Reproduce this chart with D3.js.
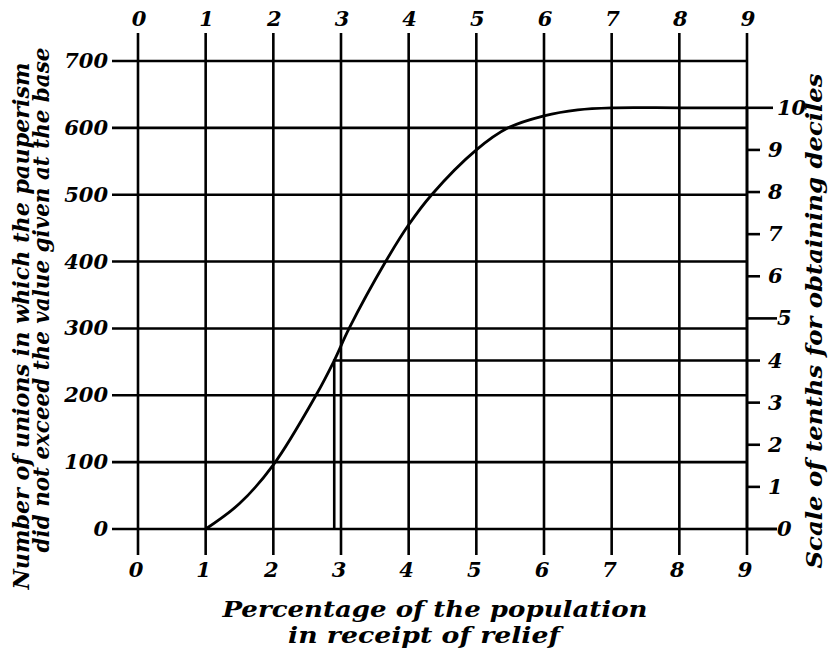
<!DOCTYPE html>
<html lang='en'>
  <head>
    <meta charset='utf-8'>
    <title>Pauperism ogive</title>
    <script src="https://d3js.org/d3.v7.min.js" charset='utf-8'></script>
    <style type="text/css">
      body { margin: 0; background: #fff; }
      svg { display: block; }
      .grid line, .ticks line, .decile { stroke: #000; stroke-width: 2.6px; fill: none; }
      .curve { stroke: #000; stroke-width: 2.8px; fill: none; }
      text {
        font-family: 'DejaVu Serif', serif;
        font-weight: bold;
        font-style: italic;
        fill: #000;
      }
      .lbl { font-size: 21px; }
      .title { font-size: 23px; }
    </style>
  </head>
  <body>
    <script type="text/javascript">
      var width = 829, height = 650;

      // percentage of population in receipt of relief (x) vs cumulative number of unions (y)
      var pct = [1, 1.5, 2, 2.63, 2.9, 3.12, 3.66, 4, 4.34, 5, 5.47, 6, 6.5, 7, 8, 9];
      var unions = [0, 38, 96, 200, 252, 300, 400, 455, 500, 567, 600, 618, 627, 630, 630, 630];
      var xTicks = [0, 1, 2, 3, 4, 5, 6, 7, 8, 9];
      var yTicks = [0, 100, 200, 300, 400, 500, 600, 700];
      var tenths = [0, 1, 2, 3, 4, 5, 6, 7, 8, 9, 10];
      var longTenths = [0, 5, 10];
      var decileShown = 4;
      var totalUnions = 630;

      var svg = d3.select('body').append('svg')
        .attr('width', width)
        .attr('height', height);

      var x = d3.scaleLinear().domain([0, 9]).range([138, 747]);
      var y = d3.scaleLinear().domain([0, 700]).range([529, 61]);
      var t = d3.scaleLinear().domain([0, 10]).range([y(0), y(totalUnions)]);

      // vertical grid lines, running past the frame top and bottom
      svg.append('g').attr('class', 'grid')
        .selectAll('line').data(xTicks).enter().append('line')
        .attr('x1', function(d) { return x(d); })
        .attr('x2', function(d) { return x(d); })
        .attr('y1', 33)
        .attr('y2', 555);

      // horizontal grid lines
      svg.append('g').attr('class', 'grid')
        .selectAll('line').data(yTicks).enter().append('line')
        .attr('x1', 112)
        .attr('x2', function(d) { return d === 0 ? 777 : x(9); })
        .attr('y1', function(d) { return y(d); })
        .attr('y2', function(d) { return y(d); });

      // x labels top and bottom
      svg.append('g').selectAll('text').data(xTicks).enter().append('text')
        .attr('class', 'lbl')
        .attr('x', function(d) { return x(d) + 1; })
        .attr('y', 26)
        .attr('text-anchor', 'middle')
        .text(function(d) { return d; });
      svg.append('g').selectAll('text').data(xTicks).enter().append('text')
        .attr('class', 'lbl')
        .attr('x', function(d) { return x(d) - 2; })
        .attr('y', 577)
        .attr('text-anchor', 'middle')
        .text(function(d) { return d; });

      // y labels left
      svg.append('g').selectAll('text').data(yTicks).enter().append('text')
        .attr('class', 'lbl')
        .attr('x', 108)
        .attr('y', function(d) { return y(d) + 7; })
        .attr('text-anchor', 'end')
        .text(function(d) { return d; });

      // scale of tenths on the right
      var right = svg.append('g').attr('class', 'ticks');
      right.append('line')
        .attr('x1', x(9)).attr('x2', x(9))
        .attr('y1', y(0)).attr('y2', t(10));
      right.selectAll('line.tk').data(tenths).enter().append('line')
        .attr('class', 'tk')
        .attr('x1', function(d) { return d === 10 ? x(9) - 2 : x(9); })
        .attr('x2', function(d) {
          if (d === 10) return 773;
          return longTenths.indexOf(d) >= 0 ? 777 : 760;
        })
        .attr('y1', function(d) { return t(d); })
        .attr('y2', function(d) { return t(d); });
      right.selectAll('text').data(tenths).enter().append('text')
        .attr('class', 'lbl')
        .attr('x', function(d) { return longTenths.indexOf(d) >= 0 ? 777 : 768; })
        .attr('y', function(d) { return t(d) + 7; })
        .text(function(d) { return d; });

      // the curve
      var pts = pct.map(function(d, i) { return [d, unions[i]]; });
      var line = d3.line()
        .x(function(d) { return x(d[0]); })
        .y(function(d) { return y(d[1]); })
        .curve(d3.curveCatmullRom.alpha(0.5));
      svg.append('path').attr('class', 'curve').attr('d', line(pts));

      // construction for the 4th decile
      var target = totalUnions * decileShown / 10;
      var i = d3.bisectLeft(unions, target);
      var f = (target - unions[i - 1]) / (unions[i] - unions[i - 1]);
      var xd = pct[i - 1] + f * (pct[i] - pct[i - 1]);
      svg.append('path').attr('class', 'decile')
        .attr('d', 'M' + x(9) + ',' + t(decileShown) +
          'H' + x(xd) + 'V' + y(0));

      // axis titles
      svg.append('text').attr('class', 'title')
        .attr('x', 435).attr('y', 617)
        .attr('text-anchor', 'middle')
        .attr('textLength', 425).attr('lengthAdjust', 'spacingAndGlyphs')
        .text('Percentage of the population');
      svg.append('text').attr('class', 'title')
        .attr('x', 424).attr('y', 643)
        .attr('text-anchor', 'middle')
        .attr('textLength', 272).attr('lengthAdjust', 'spacingAndGlyphs')
        .text('in receipt of relief');

      svg.append('text').attr('class', 'title')
        .attr('transform', 'translate(29,326) rotate(-90)')
        .attr('text-anchor', 'middle')
        .attr('textLength', 527).attr('lengthAdjust', 'spacingAndGlyphs')
        .text('Number of unions in which the pauperism');
      svg.append('text').attr('class', 'title')
        .attr('transform', 'translate(49,300) rotate(-90)')
        .attr('text-anchor', 'middle')
        .attr('textLength', 505).attr('lengthAdjust', 'spacingAndGlyphs')
        .text('did not exceed the value given at the base');
      svg.append('text').attr('class', 'title')
        .attr('transform', 'translate(822,321) rotate(-90)')
        .attr('text-anchor', 'middle')
        .attr('textLength', 495).attr('lengthAdjust', 'spacingAndGlyphs')
        .text('Scale of tenths for obtaining deciles');
    </script>
  </body>
</html>
